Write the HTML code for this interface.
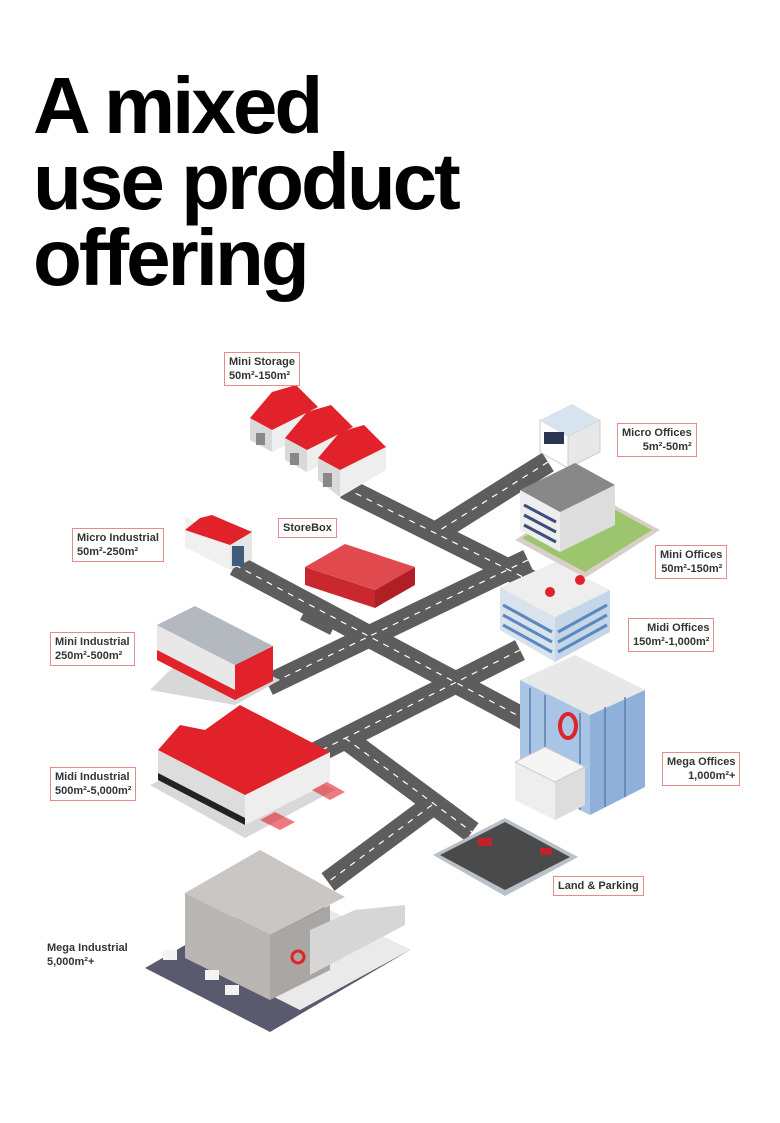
<!DOCTYPE html>
<html><head><meta charset="utf-8"><style>
html,body{margin:0;padding:0;background:#fff;}
body{width:780px;height:1123px;position:relative;overflow:hidden;font-family:"Liberation Sans",Arial,sans-serif;}
h1{position:absolute;left:33px;top:0;margin:0;font-size:80px;line-height:76px;font-weight:bold;letter-spacing:-3px;color:#000;padding-top:68px;}
.lb{position:absolute;background:#fff;border:1px solid #e98a8a;font-size:11px;font-weight:bold;color:#333;line-height:14px;padding:2px 4px;white-space:nowrap;}
svg{position:absolute;left:0;top:0;}
</style></head><body>
<h1>A mixed<br>use product<br>offering</h1>
<svg width="780" height="1123" viewBox="0 0 780 1123">
<g fill="none" stroke="#5d5d5d" stroke-width="22">
<line x1="345" y1="488" x2="535" y2="583"/>
<line x1="548" y1="462" x2="440" y2="530"/>
<line x1="528" y1="560" x2="268" y2="685"/>
<line x1="305" y1="610" x2="335" y2="625"/>
<line x1="235" y1="565" x2="545" y2="730"/>
<line x1="520" y1="650" x2="298" y2="762"/>
<line x1="345" y1="738" x2="472" y2="832"/>
<line x1="432" y1="805" x2="328" y2="882"/>
</g>
<g fill="none" stroke="#fff" stroke-width="1.2" stroke-dasharray="6 6">
<line x1="345" y1="488" x2="535" y2="583"/>
<line x1="548" y1="462" x2="440" y2="530"/>
<line x1="528" y1="560" x2="268" y2="685"/>
<line x1="235" y1="565" x2="545" y2="730"/>
<line x1="520" y1="650" x2="298" y2="762"/>
<line x1="345" y1="738" x2="472" y2="832"/>
<line x1="432" y1="805" x2="328" y2="882"/>
</g>
<!-- mini storage hangars -->
<g>
<polygon points="250,440 272,452 272,430 250,418" fill="#d9d9d9"/>
<polygon points="272,452 318,429 318,407 272,430" fill="#eee"/>
<polygon points="250,418 272,430 318,407 296,385 272,392" fill="#e1222a"/>
<polygon points="285,460 307,472 307,450 285,438" fill="#d9d9d9"/>
<polygon points="307,472 353,449 353,427 307,450" fill="#eee"/>
<polygon points="285,438 307,450 353,427 331,405 307,412" fill="#e1222a"/>
<polygon points="318,480 340,497 340,470 318,458" fill="#d9d9d9"/>
<polygon points="340,497 386,470 386,447 340,470" fill="#eee"/>
<polygon points="318,458 340,470 386,447 364,425 340,432" fill="#e1222a"/>
<rect x="256" y="433" width="9" height="12" fill="#888"/><rect x="290" y="453" width="9" height="12" fill="#888"/><rect x="323" y="473" width="9" height="14" fill="#888"/>
</g>
<!-- micro offices -->
<polygon points="540,452 568,468 568,436 540,420" fill="#fff" stroke="#ccc"/>
<polygon points="568,468 600,452 600,420 568,436" fill="#e8e8e8" stroke="#ccc"/>
<polygon points="540,420 568,436 600,420 572,404" fill="#d7e3ee"/>
<rect x="544" y="432" width="20" height="12" fill="#2b3550"/>
<!-- mini offices -->
<polygon points="515,540 585,578 660,530 590,492" fill="#d8d0c8"/>
<polygon points="522,538 585,572 652,530 590,496" fill="#9dc56e"/>
<polygon points="520,530 560,552 560,512 520,490" fill="#eee"/>
<polygon points="560,552 615,525 615,485 560,512" fill="#ddd"/>
<polygon points="520,490 560,512 615,485 575,463" fill="#888"/>
<g stroke="#3b4f7a" stroke-width="3"><line x1="524" y1="505" x2="556" y2="522"/><line x1="524" y1="515" x2="556" y2="532"/><line x1="524" y1="525" x2="556" y2="542"/></g>
<!-- micro industrial -->
<polygon points="185,547 230,570 230,540 185,517" fill="#f0f0f0"/>
<polygon points="230,570 252,559 252,529 230,540" fill="#e6e6e6"/>
<polygon points="185,530 230,545 252,532 212,515 200,518" fill="#e1222a"/>
<rect x="232" y="546" width="12" height="20" fill="#3d5d7a"/>
<!-- storebox -->
<polygon points="305,585 375,608 375,590 305,567" fill="#c9282e"/>
<polygon points="375,608 415,585 415,567 375,590" fill="#b01f25"/>
<polygon points="305,567 375,590 415,567 345,544" fill="#e04a4f"/>
<!-- mini industrial -->
<polygon points="150,690 235,705 280,680 200,640" fill="#d8d8d8"/>
<polygon points="157,660 235,700 235,665 157,625" fill="#e1222a"/>
<polygon points="157,650 235,690 235,665 157,625" fill="#e8e8e8"/>
<polygon points="235,700 273,681 273,646 235,665" fill="#e1222a"/>
<polygon points="157,625 235,665 273,646 195,606" fill="#b4b9c0"/>
<!-- midi offices -->
<polygon points="500,630 555,662 555,617 500,587" fill="#d9e3ee"/>
<polygon points="555,662 610,632 610,590 555,617" fill="#c5d6e8"/>
<polygon points="500,587 555,617 610,590 555,562" fill="#eee"/>
<g stroke="#5b88c1" stroke-width="3"><line x1="503" y1="605" x2="552" y2="632"/><line x1="503" y1="615" x2="552" y2="642"/><line x1="503" y1="625" x2="552" y2="652"/><line x1="558" y1="632" x2="607" y2="605"/><line x1="558" y1="642" x2="607" y2="615"/><line x1="558" y1="652" x2="607" y2="625"/></g>
<circle cx="550" cy="592" r="5" fill="#e1222a"/><circle cx="580" cy="580" r="5" fill="#e1222a"/>
<!-- mega offices -->
<polygon points="520,780 590,815 590,715 520,680" fill="#a9c5e6"/>
<polygon points="590,815 645,787 645,690 590,715" fill="#8fb0d8"/>
<polygon points="520,680 590,715 645,690 575,655" fill="#e8e8e8"/>
<g stroke="#5b7fae" stroke-width="1.5"><line x1="530" y1="688" x2="530" y2="785"/><line x1="545" y1="695" x2="545" y2="793"/><line x1="580" y1="713" x2="580" y2="810"/><line x1="605" y1="707" x2="605" y2="807"/><line x1="625" y1="697" x2="625" y2="797"/></g>
<ellipse cx="568" cy="726" rx="8" ry="12" fill="none" stroke="#e1222a" stroke-width="4"/>
<polygon points="515,800 555,820 555,782 515,762" fill="#eee"/>
<polygon points="555,820 585,805 585,767 555,782" fill="#ddd"/>
<polygon points="515,762 555,782 585,767 545,747" fill="#f5f5f5" stroke="#ccc"/>
<!-- midi industrial -->
<polygon points="150,785 245,838 335,790 245,742" fill="#d8d8d8"/>
<polygon points="158,780 245,825 245,795 158,750" fill="#ddd"/>
<polygon points="158,780 245,825 245,818 158,773" fill="#222"/>
<polygon points="245,825 330,782 330,752 245,795" fill="#eee"/>
<polygon points="158,750 245,795 330,752 240,705 205,730 180,725" fill="#e1222a"/>
<polygon points="260,820 280,830 295,822 275,812" fill="#e1222a" opacity="0.6"/>
<polygon points="312,790 330,800 345,792 327,782" fill="#e1222a" opacity="0.6"/>
<!-- parking -->
<polygon points="433,855 505,818 578,857 505,896" fill="#b9c0c7"/>
<polygon points="440,855 505,822 570,857 505,890" fill="#4a4a4a"/>
<rect x="478" y="838" width="14" height="8" fill="#c0222a"/><rect x="540" y="848" width="12" height="7" fill="#c0222a"/>
<!-- mega industrial -->
<polygon points="145,968 270,1032 410,950 285,888" fill="#5a5a6e"/>
<polygon points="300,1010 410,950 330,910 260,990" fill="#eaeaea"/>
<polygon points="185,958 270,1000 270,935 185,893" fill="#b9b6b3"/>
<polygon points="270,1000 330,970 330,905 270,935" fill="#a9a6a3"/>
<polygon points="185,893 270,935 345,897 260,850" fill="#c9c6c3"/>
<polygon points="310,975 405,925 405,905 355,910 310,930" fill="#d6d6d6"/>
<circle cx="298" cy="957" r="6" fill="none" stroke="#e1222a" stroke-width="3"/>
<g fill="#f3f3f3"><rect x="163" y="950" width="14" height="10"/><rect x="205" y="970" width="14" height="10"/><rect x="225" y="985" width="14" height="10"/></g>
</svg>
<div class="lb" style="left:224px;top:352px;">Mini Storage<br>50m²-150m²</div>
<div class="lb" style="left:617px;top:423px;text-align:right;">Micro Offices<br>5m²-50m²</div>
<div class="lb" style="left:278px;top:518px;">StoreBox</div>
<div class="lb" style="left:72px;top:528px;">Micro Industrial<br>50m²-250m²</div>
<div class="lb" style="left:655px;top:545px;text-align:right;">Mini Offices<br>50m²-150m²</div>
<div class="lb" style="left:50px;top:632px;">Mini Industrial<br>250m²-500m²</div>
<div class="lb" style="left:628px;top:618px;text-align:right;">Midi Offices<br>150m²-1,000m²</div>
<div class="lb" style="left:662px;top:752px;text-align:right;">Mega Offices<br>1,000m²+</div>
<div class="lb" style="left:50px;top:767px;">Midi Industrial<br>500m²-5,000m²</div>
<div class="lb" style="left:553px;top:876px;">Land &amp; Parking</div>
<div class="lb" style="left:42px;top:938px;border-color:transparent;">Mega Industrial<br>5,000m²+</div>
</body></html>
